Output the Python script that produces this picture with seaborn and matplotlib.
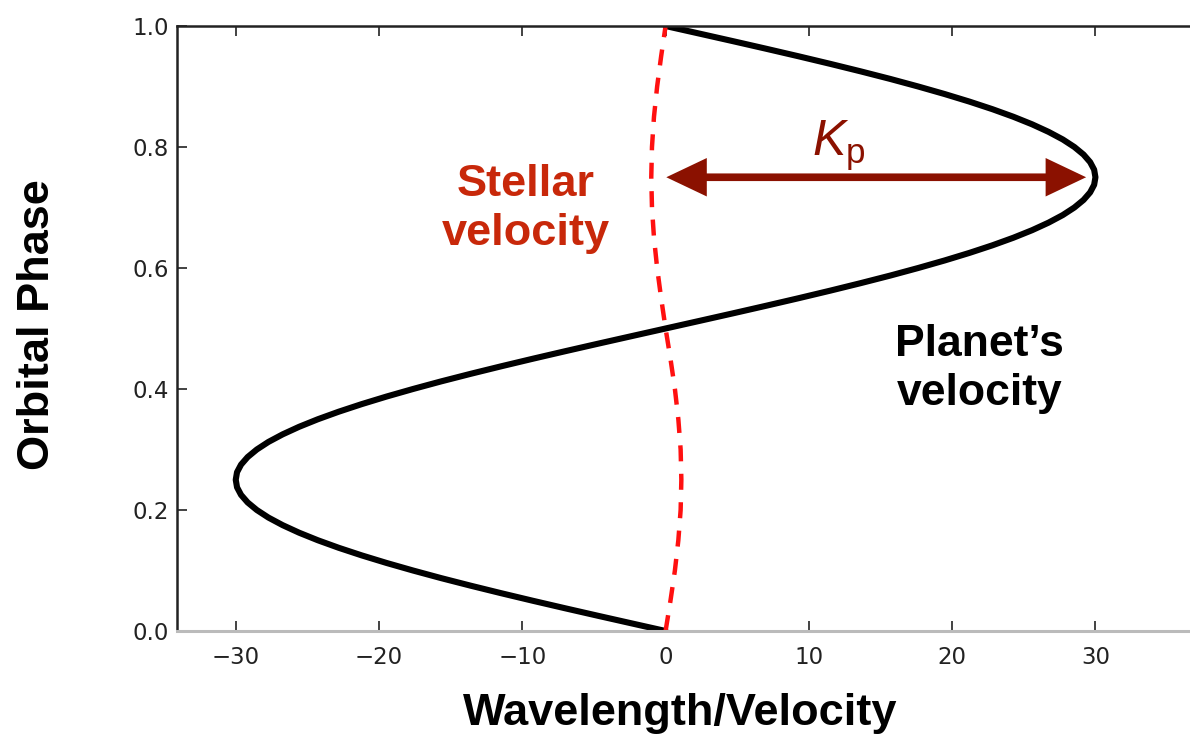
import matplotlib
matplotlib.use("Agg")
import matplotlib.pyplot as plt
import seaborn as sns

# ---- data ----
planet_phase = [0.0, 0.0125, 0.025, 0.0375, 0.05, 0.0625, 0.075, 0.0875, 0.1, 0.1125,
                0.125, 0.1375, 0.15, 0.1625, 0.175, 0.1875, 0.2, 0.2125, 0.225, 0.2375,
                0.25, 0.2625, 0.275, 0.2875, 0.3, 0.3125, 0.325, 0.3375, 0.35, 0.3625,
                0.375, 0.3875, 0.4, 0.4125, 0.425, 0.4375, 0.45, 0.4625, 0.475, 0.4875,
                0.5, 0.5125, 0.525, 0.5375, 0.55, 0.5625, 0.575, 0.5875, 0.6, 0.6125,
                0.625, 0.6375, 0.65, 0.6625, 0.675, 0.6875, 0.7, 0.7125, 0.725, 0.7375,
                0.75, 0.7625, 0.775, 0.7875, 0.8, 0.8125, 0.825, 0.8375, 0.85, 0.8625,
                0.875, 0.8875, 0.9, 0.9125, 0.925, 0.9375, 0.95, 0.9625, 0.975, 0.9875,
                1.0]
planet_velocity = [0.0, -2.35, -4.69, -7.0, -9.27, -11.48, -13.62, -15.68, -17.63, -19.48,
                   -21.21, -22.81, -24.27, -25.58, -26.73, -27.72, -28.53, -29.17, -29.63, -29.91,
                   -30.0, -29.91, -29.63, -29.17, -28.53, -27.72, -26.73, -25.58, -24.27, -22.81,
                   -21.21, -19.48, -17.63, -15.68, -13.62, -11.48, -9.27, -7.0, -4.69, -2.35,
                   0.0, 2.35, 4.69, 7.0, 9.27, 11.48, 13.62, 15.68, 17.63, 19.48,
                   21.21, 22.81, 24.27, 25.58, 26.73, 27.72, 28.53, 29.17, 29.63, 29.91,
                   30.0, 29.91, 29.63, 29.17, 28.53, 27.72, 26.73, 25.58, 24.27, 22.81,
                   21.21, 19.48, 17.63, 15.68, 13.62, 11.48, 9.27, 7.0, 4.69, 2.35,
                   0.0]

stellar_phase = [0.0, 0.05, 0.1, 0.15, 0.2, 0.25, 0.3, 0.35, 0.4, 0.45, 0.5,
                 0.55, 0.6, 0.65, 0.7, 0.75, 0.8, 0.85, 0.9, 0.95, 1.0]
stellar_velocity = [0.0, 0.34, 0.65, 0.89, 1.05, 1.1, 1.05, 0.89, 0.65, 0.34, 0.0,
                    -0.31, -0.59, -0.81, -0.95, -1.0, -0.95, -0.81, -0.59, -0.31, 0.0]

x_ticks = [-30, -20, -10, 0, 10, 20, 30]
y_ticks = [0.0, 0.2, 0.4, 0.6, 0.8, 1.0]
kp_value = 30.0
kp_phase = 0.75

sns.set_style("ticks")
plt.rcParams["font.family"] = ["DejaVu Sans"]
plt.rcParams["mathtext.fontset"] = "custom"
plt.rcParams["mathtext.it"] = "Liberation Sans:italic"
plt.rcParams["mathtext.rm"] = "Liberation Sans"

fig = plt.figure(figsize=(11.9, 7.42), dpi=100)
ax_w = 1190 - 177
ax_h = 631 - 26
ax = fig.add_axes([177 / 1190, 1 - 631 / 742, ax_w / 1190, ax_h / 742])

sns.lineplot(x=planet_velocity, y=planet_phase, sort=False, estimator=None,
             color="black", linewidth=4.4, ax=ax)
ax.lines[-1].set_solid_joinstyle("round")
ax.lines[-1].set_solid_capstyle("round")
sns.lineplot(x=stellar_velocity, y=stellar_phase, sort=False, estimator=None,
             color="#ff1010", linewidth=3.2, ax=ax)
ax.lines[-1].set_dashes([3.6, 2.8])

ax.set_xlim(-34.1, 36.6)
ax.set_ylim(0, 1.0)
ax.set_xticks(x_ticks)
ax.set_xticklabels([f"\u2212{abs(v)}" if v < 0 else f"{v}" for v in x_ticks])
ax.set_yticks(y_ticks)
ax.set_yticklabels([f"{v:.1f}" for v in y_ticks])
ax.tick_params(axis="both", direction="in", length=7, width=1.2, labelsize=16.5,
               top=True, right=False, colors="#222222")
ax.tick_params(axis="y", pad=6)
ax.tick_params(axis="x", pad=11)

for side in ["top", "left"]:
    ax.spines[side].set_color("#222222")
    ax.spines[side].set_linewidth(1.8)
ax.spines["bottom"].set_color("#bbbbbb")
ax.spines["bottom"].set_linewidth(2.2)
ax.spines["right"].set_visible(False)

label_font = dict(family=["Liberation Sans", "DejaVu Sans"], fontweight="bold")
ax.set_xlabel("Wavelength/Velocity", fontsize=32.5, color="black", va="baseline", **label_font)
ax.xaxis.set_label_coords((680 - 177) / ax_w, -(725 - 631) / ax_h)
ax.set_ylabel("Orbital Phase", fontsize=32.5, color="black", va="center", **label_font)
ax.yaxis.set_label_coords(-(177 - 38) / ax_w, (631 - 325) / ax_h)

# Kp arrow
ax.annotate("", xy=(kp_value - 0.65, kp_phase), xytext=(0.05, kp_phase),
            arrowprops=dict(arrowstyle="<|-|>,head_length=0.8,head_width=0.38",
                            color="#8b1100", lw=5.5, shrinkA=0, shrinkB=0,
                            mutation_scale=25, joinstyle="miter", capstyle="butt"))
ax.text(10.23, 0.757, r"$K_{\rm p}$", fontsize=36, color="#8b1100",
        ha="left", va="bottom")

ax.text(-9.77, 0.6975, "Stellar\nvelocity", fontsize=32.5, color="#c8280a",
        ha="center", va="center", linespacing=1.25, **label_font)
ax.text(21.9, 0.433, "Planet\u2019s\nvelocity", fontsize=32, color="black",
        ha="center", va="center", linespacing=1.25, **label_font)

fig.savefig("out.png", dpi=100)
